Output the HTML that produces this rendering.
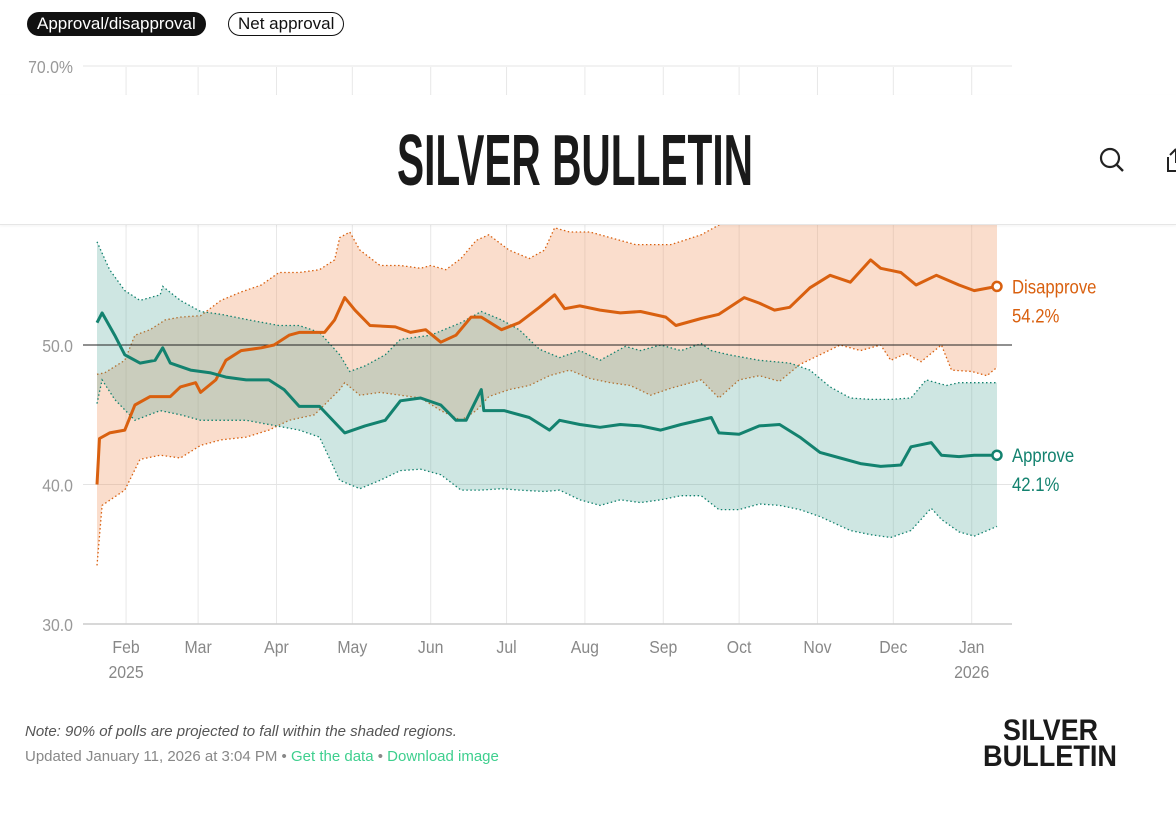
<!DOCTYPE html>
<html><head><meta charset="utf-8">
<style>
body{margin:0;width:1176px;height:816px;background:#fff;overflow:hidden;position:relative;font-family:"Liberation Sans",sans-serif}
.pill{position:absolute;top:12px;height:22px;line-height:22px;border-radius:12px;font-size:17px;padding:0 9px;box-sizing:content-box}
#header{position:absolute;left:0;top:95px;width:1176px;height:129px;background:#fff;border-bottom:1px solid #e6e6e6;box-shadow:0 1px 3px rgba(0,0,0,0.05)}
.foot{position:absolute;left:25px;font-size:15px}
</style></head><body>
<div class="pill" style="left:27px;background:#111;color:#fff;border:1px solid #111">Approval/disapproval</div>
<div class="pill" style="left:228px;background:#fff;color:#111;border:1px solid #111">Net approval</div>

<svg id="chart" width="1176" height="816" style="position:absolute;left:0;top:0"></svg>

<div id="header">
  <svg width="1176" height="129" style="position:absolute;left:0;top:0">
    <text x="397" y="90" textLength="356" lengthAdjust="spacingAndGlyphs" font-size="72" font-weight="bold" fill="#1a1a1a" font-family="Liberation Sans, sans-serif">SILVER BULLETIN</text>
  </svg>
  <svg width="30" height="30" style="position:absolute;left:1097px;top:50px"><circle cx="13" cy="13" r="9" fill="none" stroke="#222" stroke-width="2.2"/><line x1="20" y1="20" x2="26" y2="26" stroke="#222" stroke-width="2.4"/></svg>
  <svg width="20" height="30" style="position:absolute;left:1164px;top:50px"><path d="M4 12 V26 H20 M12 4 V18 M6 10 L12 4" fill="none" stroke="#222" stroke-width="2"/></svg>
</div>

<div class="foot" style="top:723px;color:#555;font-style:italic">Note: 90% of polls are projected to fall within the shaded regions.</div>
<div class="foot" style="top:748px;color:#888">Updated January 11, 2026 at 3:04 PM • <span style="color:#3ecf8e">Get the data</span> • <span style="color:#3ecf8e">Download image</span></div>
<svg width="140" height="60" style="position:absolute;left:982px;top:712px">
  <text x="21" y="28" textLength="95" lengthAdjust="spacingAndGlyphs" font-size="30" font-weight="bold" fill="#1a1a1a" font-family="Liberation Sans, sans-serif">SILVER</text>
  <text x="1" y="54" textLength="134" lengthAdjust="spacingAndGlyphs" font-size="30" font-weight="bold" fill="#1a1a1a" font-family="Liberation Sans, sans-serif">BULLETIN</text>
</svg>

<script>
const monthLabels=["Feb","Mar","Apr","May","Jun","Jul","Aug","Sep","Oct","Nov","Dec","Jan"];
const monthDays=[11.5,40,71,101,132,162,193,224,254,285,315,346];
const yTicks=[30,40,50,70];
const approveDays=[0,2,7,11,17,23,26,29,37,45,51,59,68,74,80,88,98,106,114,120,128,136,142,146,152,153,161,171,179,183,191,199,207,215,223,231,243,246,254,262,270,278,286,294,302,310,318,322,330,334,341,347,356];
const approveVals=[51.6,52.3,50.7,49.3,48.7,48.9,49.8,48.7,48.2,48.0,47.7,47.5,47.5,46.8,45.6,45.6,43.7,44.2,44.6,46.0,46.2,45.7,44.6,44.6,46.8,45.3,45.3,44.8,43.9,44.6,44.3,44.1,44.3,44.2,43.9,44.3,44.8,43.7,43.6,44.2,44.3,43.4,42.3,41.9,41.5,41.3,41.4,42.7,43.0,42.1,42.0,42.1,42.1];
const disDays=[0,1,5,11,15,21,29,33,39,41,47,51,57,65,70,76,80,90,94,98,102,108,118,124,130,136,142,148,152,160,167,175,181,185,191,199,207,215,225,229,239,246,256,262,268,274,282,290,298,306,310,318,324,332,341,347,356];
const disVals=[40.0,43.3,43.7,43.9,45.7,46.3,46.3,47.0,47.3,46.6,47.5,48.9,49.6,49.8,50.0,50.7,50.9,50.9,51.8,53.4,52.5,51.4,51.3,50.9,51.1,50.2,50.7,52.0,52.0,51.1,51.6,52.7,53.6,52.6,52.8,52.5,52.3,52.4,52.0,51.4,51.9,52.2,53.4,53.0,52.5,52.7,54.1,55.0,54.5,56.1,55.5,55.2,54.3,55.0,54.3,53.9,54.2];
const apHiDays=[0,5,11,17,25,26,33,41,49,60,72,80,88,96,100,106,114,120,132,144,152,160,167,175,183,191,199,209,215,223,231,239,243,250,262,274,282,290,298,306,314,322,328,336,341,356];
const apHiVals=[57.4,55.4,53.9,53.2,53.6,54.2,53.2,52.4,52.2,51.8,51.4,51.4,50.9,49.3,48.1,48.5,49.3,50.4,50.7,51.6,52.4,51.8,51.1,49.7,49.1,49.6,48.9,49.9,49.6,50.0,49.6,50.1,49.6,49.3,48.9,48.7,48.2,47.0,46.2,46.1,46.1,46.2,47.5,47.1,47.3,47.3];
const apLoDays=[0,2,7,15,25,33,41,49,59,68,80,88,96,104,112,120,128,136,144,152,160,167,177,183,191,199,207,215,223,231,239,246,254,262,270,278,286,298,306,314,322,330,334,341,347,356];
const apLoVals=[45.8,47.5,46.1,44.6,45.3,45.0,44.6,44.6,44.6,44.3,43.9,43.4,40.3,39.7,40.3,41.0,41.1,40.7,39.6,39.6,39.7,39.6,39.5,39.6,38.9,38.5,38.9,38.7,38.9,39.2,39.2,38.2,38.2,38.6,38.5,38.2,37.7,36.7,36.4,36.2,36.7,38.3,37.5,36.6,36.3,37.0];
const disHiDays=[0,3,11,15,21,27,33,41,49,57,65,72,80,88,94,96,100,104,112,120,128,132,138,144,150,155,163,171,177,181,187,195,203,213,219,227,239,246,256,270,290,320,356];
const disHiVals=[47.9,48.0,48.9,50.7,51.1,51.8,52.0,52.1,53.2,53.8,54.3,55.2,55.2,55.4,56.1,57.7,58.1,56.8,55.7,55.7,55.5,55.7,55.4,56.2,57.5,57.9,56.8,56.2,56.8,58.4,58.1,58.1,57.7,57.2,57.2,57.2,57.9,58.6,59.5,60,60.5,61,61];
const disLoDays=[0,2,11,17,25,33,41,49,59,68,76,86,96,98,104,112,120,128,136,144,150,155,163,171,179,187,195,203,211,219,227,239,246,254,262,270,278,286,294,302,310,314,320,326,334,338,346,352,356];
const disLoVals=[34.2,38.5,39.6,41.8,42.1,41.9,42.8,43.2,43.4,43.9,44.6,45.0,46.8,47.3,46.4,46.6,46.4,46.2,45.3,44.6,45.3,46.3,46.8,47.1,47.8,48.2,47.6,47.3,47.1,46.4,46.9,47.5,46.2,47.5,47.8,47.4,48.6,49.3,50.0,49.6,50.0,48.9,49.4,48.8,50.0,48.2,48.1,47.8,48.4];

const NS="http://www.w3.org/2000/svg";
const svg=document.getElementById('chart');
const X=d=>97+d*2.528;
const Y=v=>345-(v-50)*13.95;
const FONT='"Liberation Sans Narrow","Liberation Sans",sans-serif';
function mk(tag,attrs,parent){const e=document.createElementNS(NS,tag);for(const k in attrs)e.setAttribute(k,attrs[k]);(parent||svg).appendChild(e);return e;}
const pts=(ds,vs)=>ds.map((d,i)=>X(d).toFixed(1)+","+Y(vs[i]).toFixed(1));
function label(x,y,s,anchor,color,name,fs){
  const t=mk('text',{x:x,y:y,'text-anchor':anchor,'font-size':fs||18,fill:color,'font-family':FONT,transform:'translate('+x+' 0) scale(0.88 1) translate('+(-x)+' 0)'});
  t.textContent=s;
  return t;
}

monthDays.forEach((d,i)=>{
  const g=mk('line',{x1:X(d),x2:X(d),y1:67,y2:624,stroke:'#e8e8e8','stroke-width':1});
  
  
  const t=label(X(d),653,monthLabels[i],'middle','#888');
  
  
});
[["2025",monthDays[0]],["2026",monthDays[11]]].forEach(([s,d])=>{
  const t=label(X(d),678,s,'middle','#888');
  
  
});
yTicks.forEach(v=>{
  const l=mk('line',{x1:83,x2:1012,y1:Y(v),y2:Y(v),stroke:v===50?'#222':'#e4e4e4','stroke-width':1});
  
  
  const t=label(73,Y(v)+7,v.toFixed(1)+(v===70?'%':''),'end','#999');
  
  
});
mk('line',{x1:83,x2:1012,y1:624,y2:624,stroke:'#ccc','stroke-width':1.5});

function band(hd,hv,ld,lv,fill,stroke,name){
  const p=pts(hd,hv).concat(pts(ld,lv).reverse());
  const b=mk('polygon',{points:p.join(' '),fill:fill,stroke:'none'});
  
  
  [[hd,hv],[ld,lv]].forEach(([d,v])=>{
    const e=mk('polyline',{points:pts(d,v).join(' '),fill:'none',stroke:stroke,'stroke-width':1.3,'stroke-dasharray':'1.5 2.5'});
    
    
  });
}
band(disHiDays,disHiVals,disLoDays,disLoVals,'rgba(240,150,95,0.32)','#d9600f','disapprove-band');
band(apHiDays,apHiVals,apLoDays,apLoVals,'rgba(80,165,150,0.28)','#13826f','approve-band');
mk('line',{x1:83,x2:1012,y1:Y(50),y2:Y(50),stroke:'#222','stroke-width':1});

function line(d,v,c,name,lab){
  const l=mk('polyline',{points:pts(d,v).join(' '),fill:'none',stroke:c,'stroke-width':3,'stroke-linejoin':'round'});
  
  
  const n=d.length-1, ex=X(d[n]), ey=Y(v[n]);
  const c1=mk('circle',{cx:ex,cy:ey,r:4.5,fill:'#fff',stroke:c,'stroke-width':2.5});
  
  
  const t=label(1012,ey+7,lab,'start',c,null,19);
  
  
  const t2=label(1012,ey+36,v[n].toFixed(1)+'%','start',c,null,19);
  
  
}
line(disDays,disVals,'#d9600f','disapprove','Disapprove');
line(approveDays,approveVals,'#13826f','approve','Approve');
</script>
</body></html>
